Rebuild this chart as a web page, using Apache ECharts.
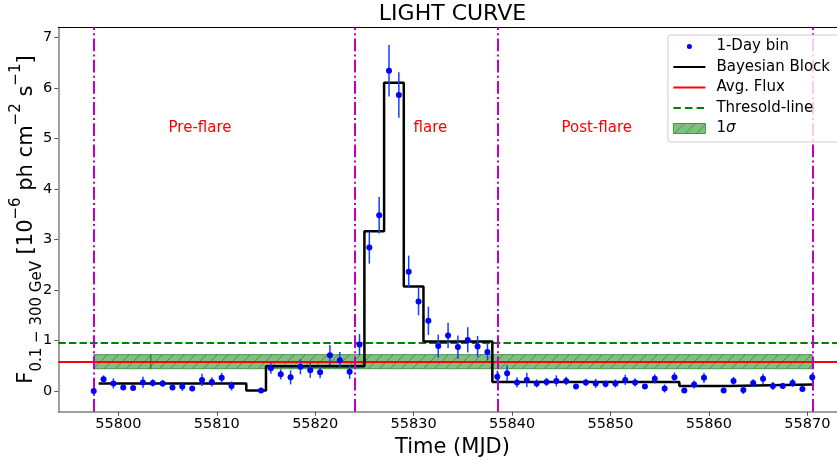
<!DOCTYPE html>
<html>
<head>
<meta charset="utf-8">
<title>Light curve</title>
<script src="https://cdn.jsdelivr.net/npm/echarts@6/dist/echarts.min.js"></script>
<style>
  html, body { margin: 0; padding: 0; background: #fff; }
  #chart { width: 837px; height: 461px; }
</style>
</head>
<body>
<div id="chart"></div>
<script>
  // 1-day bins: time (MJD), flux [1e-6 ph cm-2 s-1] and error
  var binTime = [55797.5, 55798.5, 55799.5, 55800.5, 55801.5, 55802.5, 55803.5, 55804.5, 55805.5, 55806.5,
    55807.5, 55808.5, 55809.5, 55810.5, 55811.5, 55814.5, 55815.5, 55816.5, 55817.5, 55818.5,
    55819.5, 55820.5, 55821.5, 55822.5, 55823.5, 55824.5, 55825.5, 55826.5, 55827.5, 55828.5,
    55829.5, 55830.5, 55831.5, 55832.5, 55833.5, 55834.5, 55835.5, 55836.5, 55837.5, 55838.5,
    55839.5, 55840.5, 55841.5, 55842.5, 55843.5, 55844.5, 55845.5, 55846.5, 55847.5, 55848.5,
    55849.5, 55850.5, 55851.5, 55852.5, 55853.5, 55854.5, 55855.5, 55856.5, 55857.5, 55858.5,
    55859.5, 55861.5, 55862.5, 55863.5, 55864.5, 55865.5, 55866.5, 55867.5, 55868.5, 55869.5,
    55870.5];
  var binFlux = [0.00, 0.23, 0.15, 0.07, 0.06, 0.17, 0.16, 0.15, 0.07, 0.09,
    0.05, 0.22, 0.18, 0.26, 0.10, 0.01, 0.45, 0.33, 0.27, 0.48,
    0.41, 0.37, 0.71, 0.61, 0.38, 0.92, 2.84, 3.48, 6.34, 5.86,
    2.36, 1.77, 1.39, 0.89, 1.10, 0.87, 1.01, 0.88, 0.77, 0.28,
    0.35, 0.17, 0.22, 0.15, 0.18, 0.20, 0.20, 0.09, 0.17, 0.15,
    0.14, 0.15, 0.22, 0.17, 0.09, 0.24, 0.05, 0.27, 0.01, 0.13,
    0.26, 0.01, 0.20, 0.02, 0.16, 0.24, 0.10, 0.10, 0.16, 0.04,
    0.27];
  var binErr = [0.02, 0.08, 0.10, 0.04, 0.04, 0.11, 0.07, 0.07, 0.04, 0.09,
    0.03, 0.12, 0.09, 0.10, 0.09, 0.03, 0.11, 0.10, 0.14, 0.15,
    0.15, 0.12, 0.20, 0.16, 0.14, 0.21, 0.32, 0.36, 0.51, 0.45,
    0.32, 0.27, 0.28, 0.23, 0.25, 0.23, 0.25, 0.21, 0.16, 0.12,
    0.16, 0.10, 0.14, 0.08, 0.08, 0.11, 0.08, 0.03, 0.07, 0.09,
    0.07, 0.08, 0.10, 0.08, 0.04, 0.09, 0.08, 0.10, 0.03, 0.08,
    0.10, 0.03, 0.08, 0.08, 0.07, 0.10, 0.08, 0.06, 0.08, 0.03,
    0.08];

  // bayesian blocks: edges and level of each block
  var blockEdges = [55798, 55813, 55815, 55825, 55827, 55829, 55831, 55838, 55857, 55862, 55870.5];
  var blockFlux = [0.15, 0.01, 0.49, 3.16, 6.10, 2.07, 0.98, 0.18, 0.10, 0.13];

  var avgFlux = 0.58;
  var thresholdFlux = 0.96;
  // 1 sigma band (drawn as two pieces like the original)
  var bandStart = [55797.5, 55803.3];
  var bandEnd = [55803.3, 55870.5];
  var bandLow = [0.44, 0.44];
  var bandHigh = [0.72, 0.72];

  // phase boundaries and labels
  var phaseEdges = [55797.5, 55824, 55838.5, 55870.5];
  var phaseNames = ['Pre-flare', 'flare', 'Post-flare'];
  var phaseLabelX = [55808.3, 55831.7, 55848.6];
  var phaseLabelY = [5.2, 5.2, 5.2];

  var xTicks = [55800, 55810, 55820, 55830, 55840, 55850, 55860, 55870];
  var yTicks = [0, 1, 2, 3, 4, 5, 6, 7];

  var FONT = 'DejaVu Sans';

  // green hatch pattern for the 1 sigma band
  function hatch() {
    var c = document.createElement('canvas');
    c.width = 11; c.height = 11;
    var ctx = c.getContext('2d');
    ctx.fillStyle = 'rgba(0,128,0,0.5)';
    ctx.fillRect(0, 0, 11, 11);
    ctx.strokeStyle = 'rgba(0,90,0,0.45)';
    ctx.lineWidth = 1;
    ctx.beginPath();
    [-11, 0, 11].forEach(function (o) {
      ctx.moveTo(o, 11);
      ctx.lineTo(o + 11, 0);
    });
    ctx.stroke();
    return {image: c, repeat: 'repeat'};
  }
  var bandFill = hatch();

  var pointData = binTime.map(function (t, i) { return [t, binFlux[i]]; });
  var errData = binTime.map(function (t, i) { return [t, binFlux[i], binErr[i]]; });
  var stepData = blockEdges.map(function (t, i) {
    return [t, blockFlux[Math.min(i, blockFlux.length - 1)]];
  });
  var bandData = bandStart.map(function (s, i) { return [s, bandEnd[i], bandLow[i], bandHigh[i]]; });
  var labelData = phaseNames.map(function (n, i) { return [phaseLabelX[i], phaseLabelY[i]]; });

  var chart = echarts.init(document.getElementById('chart'));
  var option = {
    animation: false,
    backgroundColor: '#fff',
    title: {
      text: 'LIGHT CURVE',
      left: 452.5,
      top: 3,
      padding: 0,
      textAlign: 'center',
      textStyle: {fontFamily: FONT, fontSize: 22, fontWeight: 'normal', color: '#000'}
    },
    grid: {left: 58.3, top: 27.3, right: -9.7, bottom: 49.3, outerBoundsMode: 'none', containLabel: false},
    legend: {
      orient: 'vertical',
      right: -12,
      top: 35,
      z: 10,
      itemWidth: 32,
      itemHeight: 10,
      itemGap: 2.5,
      padding: [2.5, 19, 4.5, 5],
      backgroundColor: 'rgba(255,255,255,0.8)',
      borderColor: '#cccccc',
      borderWidth: 1,
      borderRadius: 3,
      selectedMode: false,
      itemStyle: {borderWidth: 0},
      textStyle: {
        fontFamily: FONT, fontSize: 15, color: '#000', lineHeight: 18, padding: [0, 0, 0, 6],
        rich: {
          n: {fontFamily: FONT, fontSize: 15, color: '#000'},
          g: {fontFamily: FONT, fontSize: 15, color: '#000', fontStyle: 'italic'}
        }
      },
      formatter: function (name) {
        return name === '1σ' ? '{n|1}{g|σ}' : name;
      },
      data: [
        {name: '1-Day bin', icon: 'path://M0,0M32,10M13.5,5a2.5,2.5 0 1,0 5,0a2.5,2.5 0 1,0 -5,0z'},
        {name: 'Bayesian Block', icon: 'path://M0,0M32,10M0,3.9h32v2.2h-32z'},
        {name: 'Avg. Flux', icon: 'path://M0,0M32,10M0,3.9h32v2.2h-32z'},
        {name: 'Thresold-line', icon: 'path://M0,0M32,10M0,3.9h7.4v2.2h-7.4zM11.6,3.9h7.4v2.2h-7.4zM23.2,3.9h7.4v2.2h-7.4z'},
        {name: '1σ', icon: 'rect', itemStyle: {borderWidth: 1, borderColor: 'rgba(0,100,0,0.6)'}}
      ]
    },
    xAxis: [{
      type: 'value',
      min: 55793.9,
      max: 55874.0,
      axisLine: {show: true, onZero: false, lineStyle: {color: '#808080', width: 1.5}},
      axisTick: {show: true, length: 4, customValues: xTicks, lineStyle: {color: '#555'}},
      axisLabel: {
        customValues: xTicks, color: '#000', fontFamily: FONT, fontSize: 14.5, margin: 5,
        formatter: function (v) { return String(v); }
      },
      splitLine: {show: false},
      name: 'Time (MJD)',
      nameLocation: 'middle',
      nameGap: 13,
      nameTextStyle: {fontFamily: FONT, fontSize: 21, color: '#000'}
    }, {
      type: 'value',
      position: 'top',
      min: 55793.9,
      max: 55874.0,
      axisLine: {show: true, onZero: false, lineStyle: {color: '#000', width: 1}},
      axisTick: {show: false},
      axisLabel: {show: false},
      splitLine: {show: false}
    }],
    yAxis: {
      type: 'value',
      min: -0.41,
      max: 7.2,
      axisLine: {show: true, onZero: false, lineStyle: {color: '#808080', width: 1.5}},
      axisTick: {show: true, length: 4, customValues: yTicks, lineStyle: {color: '#555'}},
      axisLabel: {customValues: yTicks, color: '#000', fontFamily: FONT, fontSize: 14.5, margin: 6},
      splitLine: {show: false},
      name: '{m|F}{s|0.1 − 300 GeV}{m| [10}{p|−6}{m| ph cm}{p|−2}{m| s}{p|−1}{m|]}',
      nameLocation: 'middle',
      nameRotate: 90,
      nameGap: 14,
      nameMoveOverlap: false,
      nameTextStyle: {
        rich: {
          m: {fontFamily: FONT, fontSize: 21, color: '#000', lineHeight: 36, verticalAlign: 'middle'},
          s: {fontFamily: FONT, fontSize: 15, color: '#000', lineHeight: 24, verticalAlign: 'bottom'},
          p: {fontFamily: FONT, fontSize: 15, color: '#000', lineHeight: 15, verticalAlign: 'top'}
        }
      }
    },
    series: [
      {
        name: '1σ',
        type: 'custom',
        z: 1,
        silent: true,
        itemStyle: {color: bandFill},
        data: bandData,
        encode: {x: [0, 1], y: [2, 3]},
        renderItem: function (params, api) {
          var p0 = api.coord([api.value(0), api.value(3)]);
          var p1 = api.coord([api.value(1), api.value(2)]);
          return {
            type: 'rect',
            shape: {x: p0[0], y: p0[1], width: p1[0] - p0[0], height: p1[1] - p0[1]},
            style: {fill: bandFill, stroke: 'rgba(0,100,0,0.55)', lineWidth: 1}
          };
        }
      },
      {
        name: 'Avg. Flux',
        type: 'line',
        color: '#ff0000',
        data: [],
        markLine: {
          z: 2, silent: true, symbol: 'none', label: {show: false},
          lineStyle: {color: '#ff0000', width: 2, type: 'solid'},
          emphasis: {disabled: true},
          data: [{yAxis: avgFlux}]
        }
      },
      {
        name: 'Thresold-line',
        type: 'line',
        color: '#008000',
        data: [],
        markLine: {
          z: 2, silent: true, symbol: 'none', label: {show: false},
          lineStyle: {color: '#008000', width: 2, type: [7.4, 3.2]},
          emphasis: {disabled: true},
          data: [{yAxis: thresholdFlux}]
        }
      },
      {
        name: 'Bayesian Block',
        type: 'line',
        step: 'end',
        z: 3,
        color: '#000000',
        symbol: 'none',
        silent: true,
        lineStyle: {color: '#000000', width: 2.5},
        data: stepData
      },
      {
        name: 'phases',
        type: 'line',
        data: [],
        markLine: {
          z: 4, silent: true, symbol: 'none', label: {show: false},
          lineStyle: {color: '#bf00bf', width: 2, type: [12.8, 3.2, 2, 3.2]},
          emphasis: {disabled: true},
          data: phaseEdges.map(function (t) { return {xAxis: t}; })
        }
      },
      {
        name: 'errors',
        type: 'custom',
        z: 5,
        silent: true,
        data: errData,
        encode: {x: 0, y: 1},
        renderItem: function (params, api) {
          var x = api.value(0), y = api.value(1), e = api.value(2);
          var lo = api.coord([x, y - e]);
          var hi = api.coord([x, y + e]);
          return {
            type: 'line',
            shape: {x1: lo[0], y1: lo[1], x2: hi[0], y2: hi[1]},
            style: {stroke: '#1a3cff', lineWidth: 1.5}
          };
        }
      },
      {
        name: '1-Day bin',
        type: 'scatter',
        z: 6,
        silent: true,
        symbolSize: 6,
        itemStyle: {color: '#0000ff', opacity: 1},
        data: pointData
      },
      {
        name: 'labels',
        type: 'custom',
        z: 7,
        silent: true,
        data: labelData,
        encode: {x: 0, y: 1},
        renderItem: function (params, api) {
          var p = api.coord([api.value(0), api.value(1)]);
          return {
            type: 'text',
            x: p[0],
            y: p[1],
            style: {
              text: phaseNames[params.dataIndex],
              fill: '#ff0000',
              font: '15px "DejaVu Sans"',
              align: 'center',
              verticalAlign: 'middle'
            }
          };
        }
      }
    ]
  };
  chart.setOption(option);
</script>
</body>
</html>
